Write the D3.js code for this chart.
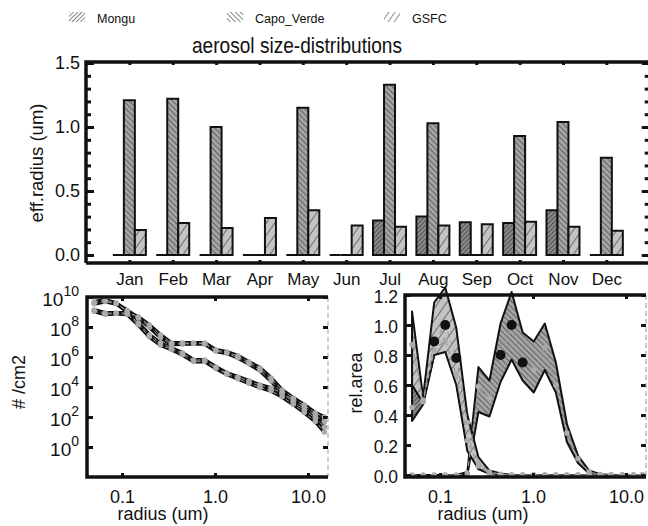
<!DOCTYPE html>
<html>
<head>
<meta charset="utf-8">
<script src="https://cdn.jsdelivr.net/npm/d3@7"></script>
<style>
body { margin: 0; background: #fff; }
text { font-family: "Liberation Sans", Arial, sans-serif; fill: #111; }
</style>
</head>
<body>
<div id="chart"></div>
<script>
// ---- data ----
var months = ["Jan","Feb","Mar","Apr","May","Jun","Jul","Aug","Sep","Oct","Nov","Dec"];
var sites = ["Mongu","Capo_Verde","GSFC"];
var effMongu = [0,0,0,0,0,0,0.27,0.30,0.255,0.25,0.35,0];
var effCapo  = [1.21,1.22,1.00,0,1.15,0,1.33,1.03,0,0.93,1.04,0.76];
var effGsfc  = [0.195,0.25,0.21,0.29,0.35,0.23,0.22,0.23,0.24,0.26,0.22,0.19];
var effTicks = [0,0.5,1.0,1.5];

// AERONET size bins (um)
var radii = [0.05,0.0658,0.0865,0.1138,0.1496,0.1967,0.2587,0.3402,0.4474,0.5884,0.7738,
             1.0176,1.3383,1.76,2.3146,3.044,4.0031,5.2645,6.9233,9.105,11.9741,15.0];
var radiusTicks = [0.1,1.0,10.0];
var radiusLabels = ["0.1","1.0","10.0"];

// log10 of number per cm2
var numA1 = [9.67,9.8,9.6,9.0,8.67,8.13,7.47,6.93,6.93,6.93,6.93,6.47,6.33,6.07,5.67,5.27,4.6,3.8,3.27,2.8,2.27,2.0];
var numA2 = [9.55,9.7,9.55,9.1,8.6,8.0,7.3,6.85,6.87,6.9,6.88,6.4,6.25,5.95,5.55,5.1,4.4,3.6,3.15,2.65,2.1,1.7];
var numB1 = [9.13,8.93,8.93,8.93,8.27,7.47,6.93,6.6,6.27,5.8,5.8,5.33,4.93,4.67,4.4,4.13,3.93,3.6,3.0,2.47,1.93,1.33];
var numB2 = [9.05,8.85,8.9,8.85,8.15,7.35,6.8,6.5,6.15,5.7,5.72,5.25,4.85,4.55,4.25,3.97,3.75,3.35,2.85,2.3,1.7,1.0];
var numExps = [0,2,4,6,8,10];

// relative area: upper / lower / mean per bin
var monguUp  = [0.60,0.50,0.86,0.95,0.72,0.28,0.08,0.02,0,0,0,0,0,0,0,0,0,0,0,0,0,0];
var monguLo  = [0.36,0.47,0.80,0.85,0.62,0.18,0.04,0.01,0,0,0,0,0,0,0,0,0,0,0,0,0,0];
var monguMid = [0.45,0.49,0.83,0.90,0.67,0.23,0.06,0.01,0,0,0,0,0,0,0,0,0,0,0,0,0,0];
var gsfcUp   = [1.09,0.52,1.15,1.25,0.98,0.40,0.12,0.03,0.01,0,0,0,0,0,0,0,0,0,0,0,0,0];
var gsfcLo   = [0.60,0.48,0.80,0.82,0.60,0.16,0.04,0.01,0,0,0,0,0,0,0,0,0,0,0,0,0,0];
var gsfcMid  = [0.87,0.50,0.89,1.00,0.78,0.35,0.08,0.02,0.005,0,0,0,0,0,0,0,0,0,0,0,0,0];
var capoUp   = [0,0,0,0,0,0.02,0.72,0.63,1.01,1.22,0.95,0.89,1.01,0.75,0.34,0.13,0.03,0.005,0,0,0,0];
var capoLo   = [0,0,0,0,0,0,0.42,0.39,0.62,0.77,0.63,0.55,0.70,0.55,0.22,0.08,0.01,0,0,0,0,0];
var capoMid  = [0,0,0,0,0,0.01,0.59,0.51,0.80,1.00,0.75,0.70,0.85,0.60,0.28,0.11,0.02,0.003,0,0,0,0];
// bins marked with the large black dots (mode peaks)
var gsfcPeak = [2,3,4];
var capoPeak = [8,9,10];
var areaTicks = [0,0.2,0.4,0.6,0.8,1.0,1.2];

// ---- svg ----
var svg = d3.select("#chart").append("svg")
    .attr("width", 648).attr("height", 526);

var defs = svg.append("defs");
function hatch(id, spacing, angle, bg, col, sw) {
    var p = defs.append("pattern").attr("id", id)
        .attr("patternUnits", "userSpaceOnUse")
        .attr("width", spacing).attr("height", spacing)
        .attr("patternTransform", "rotate(" + angle + ")");
    if (bg) p.append("rect").attr("width", spacing).attr("height", spacing).attr("fill", bg);
    p.append("line").attr("x1", 0).attr("y1", 0).attr("x2", 0).attr("y2", spacing)
        .attr("stroke", col).attr("stroke-width", sw);
}
hatch("hMongu", 3.2, 45, "#888", "#222", 1);
hatch("hCapo", 4, -45, "#a4a4a4", "#222", 1);
hatch("hGsfc", 7, 35, "#c4c4c4", "#222", 1.1);
hatch("lMongu", 3, 45, null, "#444", 1.3);
hatch("lCapo", 3.5, -45, null, "#444", 1.3);
hatch("lGsfc", 5, 35, null, "#555", 1.3);
var fills = {"Mongu": "url(#hMongu)", "Capo_Verde": "url(#hCapo)", "GSFC": "url(#hGsfc)"};
var legFills = {"Mongu": "url(#lMongu)", "Capo_Verde": "url(#lCapo)", "GSFC": "url(#lGsfc)"};

// legend
var legX = [69, 227, 384];
sites.forEach(function(s, i) {
    svg.append("rect").attr("x", legX[i]).attr("y", 12).attr("width", 16).attr("height", 10)
        .attr("fill", legFills[s]);
    svg.append("text").attr("x", legX[i] + 28).attr("y", 22.5).attr("font-size", 12.5).text(s);
});

svg.append("text").attr("x", 297).attr("y", 53).attr("text-anchor", "middle")
    .attr("font-size", 22).attr("textLength", 210).attr("lengthAdjust", "spacingAndGlyphs")
    .text("aerosol size-distributions");

function cleanAxis(g, size) {
    g.select(".domain").remove();
    g.selectAll(".tick line").attr("stroke", "#111").attr("stroke-width", 3);
    g.selectAll("text").attr("font-size", size).attr("font-family", null).attr("fill", "#111");
}

// ---- top panel: effective radius bars ----
var xM = d3.scaleLinear().domain([0, 13]).range([86, 649.7]);
var yE = d3.scaleLinear().domain([-0.0625, 1.508]).range([263, 62]);
var xOff = d3.scaleBand().domain(sites).range([-16.5, 16.5]);
var minorE = d3.range(1, 15).filter(function(k) { return k % 5; }).map(function(k) { return k / 10; });

var barRows = months.map(function(m, i) {
    return {month: m, idx: i + 1, vals: [effMongu[i], effCapo[i], effGsfc[i]]};
});
var grp = svg.append("g").selectAll("g").data(barRows).enter().append("g")
    .attr("transform", function(d) { return "translate(" + xM(d.idx) + ",0)"; });
grp.selectAll("path").data(function(d) {
        return d.vals.map(function(v, j) { return {site: sites[j], v: v}; });
    }).enter().append("path")
    .attr("d", function(d) {
        var x0 = xOff(d.site), w = xOff.bandwidth();
        return "M" + x0 + "," + yE(0) + "V" + yE(d.v) + "H" + (x0 + w) + "V" + yE(0) + "Z";
    })
    .attr("fill", function(d) { return fills[d.site]; })
    .attr("stroke", "#111").attr("stroke-width", 2);

svg.append("g").attr("transform", "translate(86,0)")
    .call(d3.axisLeft(yE).tickValues(effTicks).tickSize(-8).tickPadding(6).tickFormat(d3.format(".1f")))
    .call(function(g) { cleanAxis(g, 18); });
svg.append("g").attr("transform", "translate(86,0)")
    .call(d3.axisLeft(yE).tickValues(minorE).tickSize(-5).tickFormat(""))
    .call(function(g) { cleanAxis(g, 0); });
svg.append("g").attr("transform", "translate(649.7,0)")
    .call(d3.axisRight(yE).tickValues(effTicks).tickSize(-8).tickFormat(""))
    .call(function(g) { cleanAxis(g, 0); });
svg.append("g").attr("transform", "translate(649.7,0)")
    .call(d3.axisRight(yE).tickValues(minorE).tickSize(-5).tickFormat(""))
    .call(function(g) { cleanAxis(g, 0); });
svg.append("g").attr("transform", "translate(0,263)")
    .call(d3.axisBottom(xM).tickValues(d3.range(1, 13)).tickSize(-3).tickPadding(10)
        .tickFormat(function(d) { return months[d - 1]; }))
    .call(function(g) { cleanAxis(g, 17); });
svg.append("g").attr("transform", "translate(0,62)")
    .call(d3.axisTop(xM).tickValues(d3.range(1, 13)).tickSize(-3).tickFormat(""))
    .call(function(g) { cleanAxis(g, 0); });
svg.append("path").attr("d", "M86,263V62H648").attr("fill", "none")
    .attr("stroke", "#111").attr("stroke-width", 3.5);
svg.append("path").attr("d", "M86,263H648").attr("stroke", "#111").attr("stroke-width", 3.5);
svg.append("text").attr("transform", "translate(43,163) rotate(-90)")
    .attr("text-anchor", "middle").attr("font-size", 18.5).text("eff.radius (um)");

// ---- bottom left: number distributions ----
var xL = d3.scaleLog().domain([0.042, 16.4]).range([87, 328]);
var yN = d3.scaleLog().domain([1e-2, 1e10]).range([477, 297]);
var numCurves = [numA1, numA2, numB1, numB2];
var numLine = d3.line()
    .x(function(d, i) { return xL(radii[i]); })
    .y(function(d) { return yN(Math.pow(10, d)); });
var cg = svg.append("g");
numCurves.forEach(function(c) {
    cg.append("path").attr("d", numLine(c)).attr("fill", "none")
        .attr("stroke", "#111").attr("stroke-width", 4);
});
numCurves.forEach(function(c) {
    cg.append("path").attr("d", numLine(c)).attr("fill", "none")
        .attr("stroke", "#999").attr("stroke-width", 1).attr("stroke-dasharray", "4,3");
    cg.selectAll(null).data(c).enter().append("circle")
        .attr("cx", function(d, i) { return xL(radii[i]); })
        .attr("cy", function(d) { return yN(Math.pow(10, d)); })
        .attr("r", 2.8).attr("fill", "#aaa");
});

svg.append("g").attr("transform", "translate(87,0)")
    .call(d3.axisLeft(yN).tickValues(numExps.map(function(e) { return Math.pow(10, e); }))
        .tickSize(-6).tickFormat(""))
    .call(function(g) { cleanAxis(g, 0); });
numExps.forEach(function(e) {
    var t = svg.append("text").attr("x", 79).attr("y", yN(Math.pow(10, e)) + 9)
        .attr("text-anchor", "end").attr("font-size", 19);
    t.append("tspan").text("10");
    t.append("tspan").attr("dy", -10).attr("font-size", 14).text(e);
});
svg.append("g").attr("transform", "translate(328,0)")
    .call(d3.axisRight(yN).tickValues(numExps.map(function(e) { return Math.pow(10, e); }))
        .tickSize(-5).tickFormat(""))
    .call(function(g) { cleanAxis(g, 0); });
svg.append("g").attr("transform", "translate(0,477)")
    .call(d3.axisBottom(xL).tickValues(radiusTicks).tickSize(-4).tickPadding(13)
        .tickFormat(function(d, i) { return radiusLabels[i]; }))
    .call(function(g) { cleanAxis(g, 18); });
svg.append("g").attr("transform", "translate(0,297)")
    .call(d3.axisTop(xL).tickValues(radiusTicks).tickSize(-4).tickFormat(""))
    .call(function(g) { cleanAxis(g, 0); });
svg.append("path").attr("d", "M328,297V477").attr("stroke", "#999").attr("stroke-width", 1)
    .attr("stroke-dasharray", "5,3");
svg.append("path").attr("d", "M328,477H87V297H328").attr("fill", "none")
    .attr("stroke", "#111").attr("stroke-width", 3.5);
svg.append("text").attr("x", 163).attr("y", 520).attr("text-anchor", "middle")
    .attr("font-size", 18).text("radius (um)");
svg.append("text").attr("transform", "translate(25,382) rotate(-90)")
    .attr("text-anchor", "middle").attr("font-size", 18).text("# /cm2");

// ---- bottom right: relative area ----
var xR = d3.scaleLog().domain([0.042, 16.4]).range([405, 646]);
var yA = d3.scaleLinear().domain([-0.013, 1.2]).range([477, 295]);
var bands = [
    {site: "Capo_Verde", up: capoUp, lo: capoLo, mid: capoMid, peak: capoPeak},
    {site: "Mongu", up: monguUp, lo: monguLo, mid: monguMid, peak: []},
    {site: "GSFC", up: gsfcUp, lo: gsfcLo, mid: gsfcMid, peak: gsfcPeak}
];
var band = d3.area()
    .x(function(d, i) { return xR(radii[i]); })
    .y0(function(d) { return yA(d[0]); })
    .y1(function(d) { return yA(d[1]); });
var midLine = d3.line()
    .x(function(d, i) { return xR(radii[i]); })
    .y(function(d) { return yA(d); });
var bg = svg.append("g");
bands.forEach(function(b) {
    var pts = b.lo.map(function(v, i) { return [v, b.up[i]]; });
    bg.append("path").attr("d", band(pts)).attr("fill", fills[b.site])
        .attr("stroke", "#111").attr("stroke-width", 2).attr("stroke-linejoin", "round");
});
bands.forEach(function(b) {
    bg.append("path").attr("d", midLine(b.mid)).attr("fill", "none")
        .attr("stroke", "#999").attr("stroke-width", 1.2).attr("stroke-dasharray", "5,4");
    bg.selectAll(null).data(b.mid).enter().append("circle")
        .attr("cx", function(d, i) { return xR(radii[i]); })
        .attr("cy", function(d) { return yA(d); })
        .attr("r", function(d, i) { return b.peak.indexOf(i) >= 0 ? 5 : 2.8; })
        .attr("fill", function(d, i) { return b.peak.indexOf(i) >= 0 ? "#111" : "#aaa"; });
});

svg.append("g").attr("transform", "translate(405,0)")
    .call(d3.axisLeft(yA).tickValues(areaTicks).tickSize(-6).tickPadding(7).tickFormat(d3.format(".1f")))
    .call(function(g) { cleanAxis(g, 17.5); g.selectAll("text").attr("dy", "0.45em"); });
svg.append("g").attr("transform", "translate(646,0)")
    .call(d3.axisRight(yA).tickValues(areaTicks).tickSize(-5).tickFormat(""))
    .call(function(g) { cleanAxis(g, 0); });
svg.append("g").attr("transform", "translate(0,477)")
    .call(d3.axisBottom(xR).tickValues(radiusTicks).tickSize(-4).tickPadding(13)
        .tickFormat(function(d, i) { return radiusLabels[i]; }))
    .call(function(g) { cleanAxis(g, 18); });
svg.append("g").attr("transform", "translate(0,295)")
    .call(d3.axisTop(xR).tickValues(radiusTicks).tickSize(-4).tickFormat(""))
    .call(function(g) { cleanAxis(g, 0); });
svg.append("path").attr("d", "M646,295V477").attr("stroke", "#999").attr("stroke-width", 1)
    .attr("stroke-dasharray", "5,3");
svg.append("path").attr("d", "M646,477H405V295H646").attr("fill", "none")
    .attr("stroke", "#111").attr("stroke-width", 3.5);
svg.append("text").attr("x", 483).attr("y", 520).attr("text-anchor", "middle")
    .attr("font-size", 18).text("radius (um)");
svg.append("text").attr("transform", "translate(362,383) rotate(-90)")
    .attr("text-anchor", "middle").attr("font-size", 18).text("rel.area");
</script>
</body>
</html>
